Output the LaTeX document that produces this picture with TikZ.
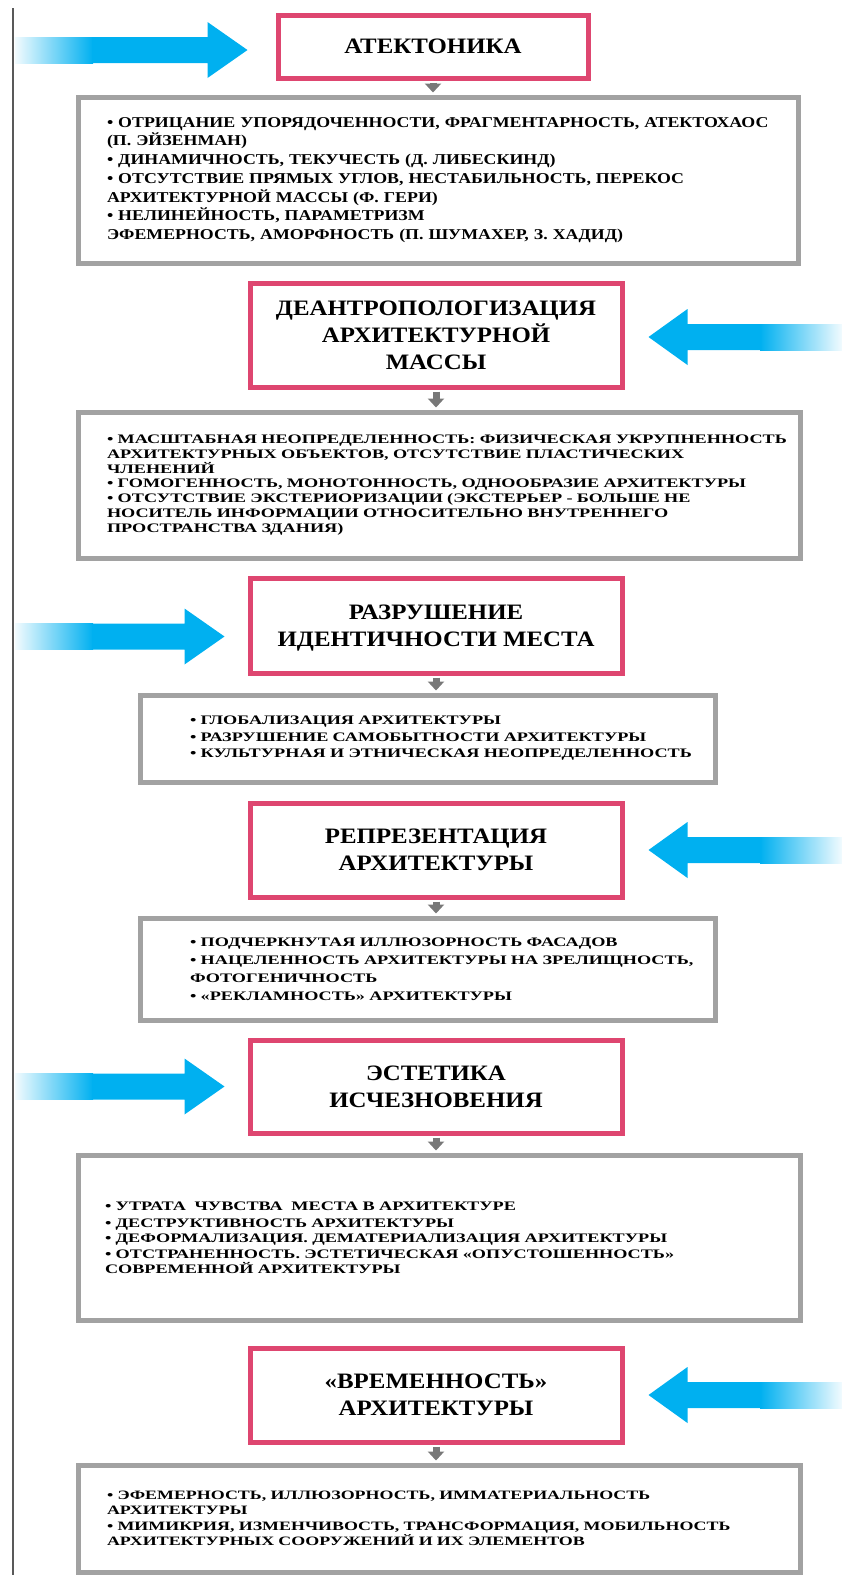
\documentclass[tikz,border=0pt]{standalone}
\usepackage{fontspec}
\setmainfont{Liberation Serif}
\newfontfamily\titlefont[FakeStretch=1.13]{Liberation Serif}
\newfontfamily\widefont[FakeStretch=1.40]{Liberation Serif}
\newfontfamily\listfont[FakeStretch=1.19]{Liberation Serif}
\usetikzlibrary{arrows.meta, calc}

\definecolor{arrowcyan}{RGB}{0,176,240}
\definecolor{titlepink}{RGB}{222,70,112}
\definecolor{boxgray}{RGB}{162,162,162}
\definecolor{tipgray}{RGB}{120,120,120}

% big cyan arrow coming from the left: #1 = tip
\newcommand\cyanfromleft[1]{%
  \coordinate (ct) at (#1);
  \coordinate (cs) at (ct -| cl);
  \shade[left color=arrowcyan!5, right color=arrowcyan] ($(cs)+(0,-13)$) rectangle ($(cs)+(78,13)$);
  \fill[arrowcyan] ($(cs)+(77,-13)$) -- ($(ct)+(-40,-13)$) -- ($(ct)+(-40,-28)$) -- (ct)
    -- ($(ct)+(-40,28)$) -- ($(ct)+(-40,13)$) -- ($(cs)+(77,13)$) -- cycle;
}
% big cyan arrow coming from the right: #1 = tip
\newcommand\cyanfromright[1]{%
  \coordinate (ct) at (#1);
  \coordinate (cs) at (ct -| cr);
  \shade[left color=arrowcyan, right color=arrowcyan!5] ($(cs)+(-82,-13)$) rectangle ($(cs)+(0,13)$);
  \fill[arrowcyan] ($(cs)+(-81,-13)$) -- ($(ct)+(39,-13)$) -- ($(ct)+(39,-28)$) -- (ct)
    -- ($(ct)+(39,28)$) -- ($(ct)+(39,13)$) -- ($(cs)+(-81,13)$) -- cycle;
}

\begin{document}
\begin{tikzpicture}[x=1pt, y=-1pt,
  titlebox/.style={draw=titlepink, line width=5pt, align=center, inner sep=0pt, text depth=0pt,
    font=\titlefont\bfseries\fontsize{22}{27}\selectfont},
  listbox/.style={draw=boxgray, line width=5pt, align=left, inner sep=0pt},
  smallarrow/.style={draw=tipgray, line width=7pt, shorten <=2pt, shorten >=2pt,
    -{Triangle[width=16pt, length=9pt]}}]
\useasboundingbox (0,0) rectangle (842,1575);
\coordinate (cl) at (15,0);
\coordinate (cr) at (842,0);
\draw[line width=1.6pt, black!65] (13,8) -- (13,1575);

% titles
\node[titlebox, minimum width=310, minimum height=63] (t1) at (433,46.5) {АТЕКТОНИКА};
\node[titlebox, minimum width=372, minimum height=104] (t2) at (436,335) {ДЕАНТРОПОЛОГИЗАЦИЯ\\АРХИТЕКТУРНОЙ\\МАССЫ};
\node[titlebox, minimum width=372, minimum height=95] (t3) at (436,625.5) {РАЗРУШЕНИЕ\\ИДЕНТИЧНОСТИ МЕСТА};
\node[titlebox, minimum width=372, minimum height=94] (t4) at (436,850) {РЕПРЕЗЕНТАЦИЯ\\АРХИТЕКТУРЫ};
\node[titlebox, minimum width=372, minimum height=93] (t5) at (436,1086.5) {ЭСТЕТИКА\\ИСЧЕЗНОВЕНИЯ};
\node[titlebox, minimum width=372, minimum height=94] (t6) at (436,1395) {«ВРЕМЕННОСТЬ»\\АРХИТЕКТУРЫ};

% lists
\node[listbox, text width=720, minimum height=166,
  font=\listfont\bfseries\fontsize{15}{18.7}\selectfont] (d1) at (438,180) {\leftskip=29pt
• ОТРИЦАНИЕ УПОРЯДОЧЕННОСТИ, ФРАГМЕНТАРНОСТЬ, АТЕКТОХАОС\\
(П. ЭЙЗЕНМАН)\\
• ДИНАМИЧНОСТЬ, ТЕКУЧЕСТЬ (Д. ЛИБЕСКИНД)\\
• ОТСУТСТВИЕ ПРЯМЫХ УГЛОВ, НЕСТАБИЛЬНОСТЬ, ПЕРЕКОС\\
АРХИТЕКТУРНОЙ МАССЫ (Ф. ГЕРИ)\\
• НЕЛИНЕЙНОСТЬ, ПАРАМЕТРИЗМ\\
ЭФЕМЕРНОСТЬ, АМОРФНОСТЬ (П. ШУМАХЕР, З. ХАДИД)\par};
\node[listbox, text width=722, minimum height=146,
  font=\widefont\bfseries\fontsize{13}{14.8}\selectfont] (d2) at (439,485) {\leftskip=29pt
• МАСШТАБНАЯ НЕОПРЕДЕЛЕННОСТЬ: ФИЗИЧЕСКАЯ УКРУПНЕННОСТЬ\\
АРХИТЕКТУРНЫХ ОБЪЕКТОВ, ОТСУТСТВИЕ ПЛАСТИЧЕСКИХ\\
ЧЛЕНЕНИЙ\\
• ГОМОГЕННОСТЬ, МОНОТОННОСТЬ, ОДНООБРАЗИЕ АРХИТЕКТУРЫ\\
• ОТСУТСТВИЕ ЭКСТЕРИОРИЗАЦИИ (ЭКСТЕРЬЕР - БОЛЬШЕ НЕ\\
НОСИТЕЛЬ ИНФОРМАЦИИ ОТНОСИТЕЛЬНО ВНУТРЕННЕГО\\
ПРОСТРАНСТВА ЗДАНИЯ)\par};
\node[listbox, text width=575, minimum height=87,
  font=\widefont\bfseries\fontsize{13}{16.5}\selectfont] (d3) at (427.5,738.5) {\leftskip=50pt
• ГЛОБАЛИЗАЦИЯ АРХИТЕКТУРЫ\\
• РАЗРУШЕНИЕ САМОБЫТНОСТИ АРХИТЕКТУРЫ\\
• КУЛЬТУРНАЯ И ЭТНИЧЕСКАЯ НЕОПРЕДЕЛЕННОСТЬ\par};
\node[listbox, text width=575, minimum height=102,
  font=\widefont\bfseries\fontsize{13}{18}\selectfont] (d4) at (427.5,969) {\leftskip=50pt
• ПОДЧЕРКНУТАЯ ИЛЛЮЗОРНОСТЬ ФАСАДОВ\\
• НАЦЕЛЕННОСТЬ АРХИТЕКТУРЫ НА ЗРЕЛИЩНОСТЬ,\\
ФОТОГЕНИЧНОСТЬ\\
• «РЕКЛАМНОСТЬ» АРХИТЕКТУРЫ\par};
\node[listbox, text width=722, minimum height=165,
  font=\widefont\bfseries\fontsize{13}{15.5}\selectfont] (d5) at (439,1237.5) {\leftskip=27pt
• УТРАТА~ ЧУВСТВА~ МЕСТА В АРХИТЕКТУРЕ\\[1.5pt]
• ДЕСТРУКТИВНОСТЬ АРХИТЕКТУРЫ\\
• ДЕФОРМАЛИЗАЦИЯ. ДЕМАТЕРИАЛИЗАЦИЯ АРХИТЕКТУРЫ\\
• ОТСТРАНЕННОСТЬ. ЭСТЕТИЧЕСКАЯ «ОПУСТОШЕННОСТЬ»\\
СОВРЕМЕННОЙ АРХИТЕКТУРЫ\par};
\node[listbox, text width=722, minimum height=107,
  font=\widefont\bfseries\fontsize{12.8}{15.5}\selectfont] (d6) at (439,1518.5) {\leftskip=29pt
• ЭФЕМЕРНОСТЬ, ИЛЛЮЗОРНОСТЬ, ИММАТЕРИАЛЬНОСТЬ\\
АРХИТЕКТУРЫ\\
• МИМИКРИЯ, ИЗМЕНЧИВОСТЬ, ТРАНСФОРМАЦИЯ, МОБИЛЬНОСТЬ\\
АРХИТЕКТУРНЫХ СООРУЖЕНИЙ И ИХ ЭЛЕМЕНТОВ\par};

% small arrows
\foreach \i in {1,...,6}
  \draw[smallarrow] (t\i.south) -- (t\i.south |- d\i.north);

% big arrows
\cyanfromleft{[xshift=-28pt, yshift=-3.5pt]t1.west}
\cyanfromright{[xshift=24pt, yshift=-2pt]t2.east}
\cyanfromleft{[xshift=-23pt, yshift=-11pt]t3.west}
\cyanfromright{[xshift=24pt]t4.east}
\cyanfromleft{[xshift=-23pt]t5.west}
\cyanfromright{[xshift=24pt]t6.east}
\end{tikzpicture}
\end{document}
